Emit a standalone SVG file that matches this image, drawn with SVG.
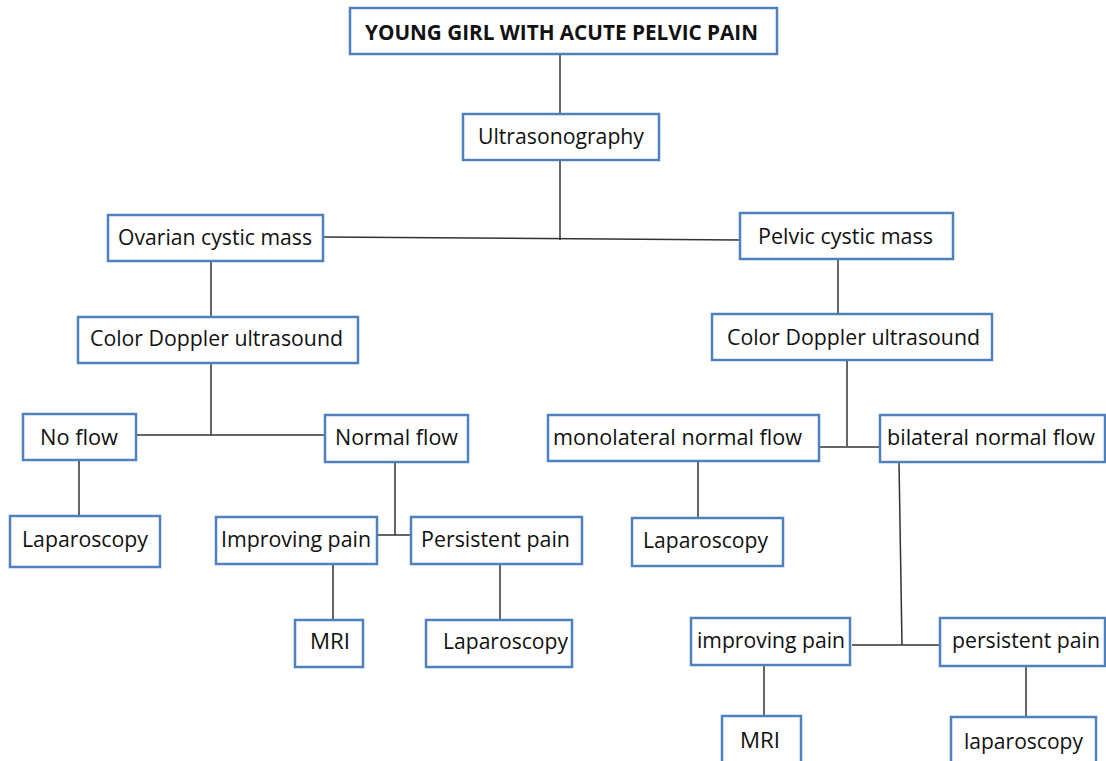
<svg xmlns="http://www.w3.org/2000/svg" width="1106" height="761" viewBox="0 0 1106 761">
<style>
.box{fill:#fff;stroke:#4f81bd;stroke-width:2.5}
.t{font-family:"Open Sans","Liberation Sans",sans-serif;font-size:21px;fill:#111}
.b{font-weight:bold;font-size:21px}
.c{fill:none;stroke:#333;stroke-width:1.5}
</style>
<rect width="1106" height="761" fill="#fff"/>
<g id="connectors">
<path class="c" d="M560 54V113"/>
<path class="c" d="M560 160V240"/>
<path class="c" d="M323 237L740 240"/>
<path class="c" d="M211 261V316"/>
<path class="c" d="M838 259V313"/>
<path class="c" d="M211 363V435"/>
<path class="c" d="M136 435H325"/>
<path class="c" d="M79 460V516"/>
<path class="c" d="M395 462V535"/>
<path class="c" d="M377 535H411"/>
<path class="c" d="M333 564V620"/>
<path class="c" d="M500 564V620"/>
<path class="c" d="M847 360V446"/>
<path class="c" d="M819 447H880"/>
<path class="c" d="M698 461V518"/>
<path class="c" d="M899 462L902 645"/>
<path class="c" d="M852 645H940"/>
<path class="c" d="M764 666V716"/>
<path class="c" d="M1026 666V717"/>
</g>
<g id="n-top"><rect class="box" x="350" y="8" width="427" height="46"/><text class="t b" x="365" y="39.5" textLength="393" lengthAdjust="spacingAndGlyphs">YOUNG GIRL WITH ACUTE PELVIC PAIN</text></g>
<g id="n-us"><rect class="box" x="463" y="114" width="196" height="46"/><text class="t" x="478" y="144" textLength="166" lengthAdjust="spacingAndGlyphs">Ultrasonography</text></g>
<g id="n-ovarian"><rect class="box" x="108" y="215" width="215" height="46"/><text class="t" x="118" y="245" textLength="194" lengthAdjust="spacingAndGlyphs">Ovarian cystic mass</text></g>
<g id="n-pelvic"><rect class="box" x="740" y="213" width="213" height="46"/><text class="t" x="758" y="244" textLength="175" lengthAdjust="spacingAndGlyphs">Pelvic cystic mass</text></g>
<g id="n-cdl"><rect class="box" x="78" y="317" width="280" height="46"/><text class="t" x="90" y="346" textLength="253" lengthAdjust="spacingAndGlyphs">Color Doppler ultrasound</text></g>
<g id="n-cdr"><rect class="box" x="712" y="314" width="280" height="46"/><text class="t" x="727" y="345" textLength="253" lengthAdjust="spacingAndGlyphs">Color Doppler ultrasound</text></g>
<g id="n-noflow"><rect class="box" x="23" y="414" width="113" height="46"/><text class="t" x="40" y="445" textLength="78" lengthAdjust="spacingAndGlyphs">No flow</text></g>
<g id="n-normal"><rect class="box" x="325" y="415" width="143" height="47"/><text class="t" x="335" y="445" textLength="123" lengthAdjust="spacingAndGlyphs">Normal flow</text></g>
<g id="n-mono"><rect class="box" x="548" y="415" width="271" height="46"/><text class="t" x="553" y="445" textLength="249" lengthAdjust="spacingAndGlyphs">monolateral normal flow</text></g>
<g id="n-bi"><rect class="box" x="880" y="415" width="225" height="47"/><text class="t" x="887" y="445" textLength="208" lengthAdjust="spacingAndGlyphs">bilateral normal flow</text></g>
<g id="n-lap1"><rect class="box" x="10" y="516" width="150" height="51"/><text class="t" x="22" y="547" textLength="126" lengthAdjust="spacingAndGlyphs">Laparoscopy</text></g>
<g id="n-imp1"><rect class="box" x="216" y="517" width="161" height="47"/><text class="t" x="221" y="547" textLength="150" lengthAdjust="spacingAndGlyphs">Improving pain</text></g>
<g id="n-per1"><rect class="box" x="411" y="517" width="171" height="47"/><text class="t" x="421" y="547" textLength="149" lengthAdjust="spacingAndGlyphs">Persistent pain</text></g>
<g id="n-lap3"><rect class="box" x="632" y="518" width="151" height="48"/><text class="t" x="643" y="548" textLength="125" lengthAdjust="spacingAndGlyphs">Laparoscopy</text></g>
<g id="n-mri1"><rect class="box" x="295" y="620" width="68" height="47"/><text class="t" x="310" y="649" textLength="40" lengthAdjust="spacingAndGlyphs">MRI</text></g>
<g id="n-lap2"><rect class="box" x="426" y="620" width="146" height="47"/><text class="t" x="443" y="649" textLength="125" lengthAdjust="spacingAndGlyphs">Laparoscopy</text></g>
<g id="n-imp2"><rect class="box" x="691" y="618" width="159" height="47"/><text class="t" x="697" y="648" textLength="148" lengthAdjust="spacingAndGlyphs">improving pain</text></g>
<g id="n-per2"><rect class="box" x="940" y="618" width="165" height="48"/><text class="t" x="952" y="648" textLength="148" lengthAdjust="spacingAndGlyphs">persistent pain</text></g>
<g id="n-mri2"><rect class="box" x="722" y="716" width="79" height="50"/><text class="t" x="740" y="748" textLength="40" lengthAdjust="spacingAndGlyphs">MRI</text></g>
<g id="n-lap4"><rect class="box" x="951" y="717" width="145" height="50"/><text class="t" x="964" y="749" textLength="119" lengthAdjust="spacingAndGlyphs">laparoscopy</text></g>
</svg>
